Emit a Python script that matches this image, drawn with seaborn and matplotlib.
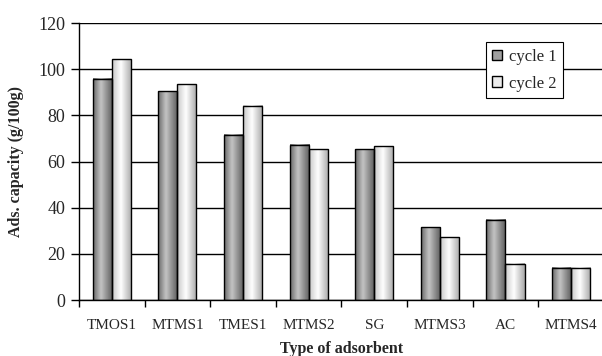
import numpy as np
import pandas as pd
import seaborn as sns
import matplotlib.pyplot as plt
from matplotlib.colors import LinearSegmentedColormap
from matplotlib.patches import Patch

adsorbents = ["TMOS1", "MTMS1", "TMES1", "MTMS2", "SG", "MTMS3", "AC", "MTMS4"]
cycle1 = [95.8, 90.4, 71.5, 67.2, 65.3, 31.5, 34.7, 13.9]
cycle2 = [104.3, 93.4, 84.2, 65.3, 66.7, 27.2, 15.7, 13.9]
series = ["cycle 1", "cycle 2"]
yticks = [0, 20, 40, 60, 80, 100, 120]

df = pd.DataFrame({
    "adsorbent": adsorbents * 2,
    "capacity": cycle1 + cycle2,
    "cycle": [series[0]] * len(adsorbents) + [series[1]] * len(adsorbents),
})

sns.set_style("white")
plt.rcParams["font.family"] = ["Liberation Serif", "DejaVu Serif"]

fig = plt.figure(figsize=(6.02, 3.56), dpi=100)
ax = fig.add_axes([0.1312, 0.1573, 0.872, 0.778])

sns.barplot(data=df, x="adsorbent", y="capacity", hue="cycle", order=adsorbents,
            hue_order=series, width=0.58, gap=0, ax=ax, legend=False,
            palette=["#a0a0a0", "#ececec"], edgecolor="black", linewidth=1.0,
            saturation=1)

# cylinder-like shading as in the original spreadsheet chart
cmaps = [
    LinearSegmentedColormap.from_list("c1", [(0, "#6a6a6a"), (0.4, "#c4c4c4"), (1, "#5c5c5c")]),
    LinearSegmentedColormap.from_list("c2", [(0, "#c8c8c8"), (0.45, "#ffffff"), (1, "#a8a8a8")]),
]
grad = np.linspace(0, 1, 64).reshape(1, -1)
for cont, cm in zip(ax.containers, cmaps):
    for bar in cont:
        x, w, h = bar.get_x(), bar.get_width(), bar.get_height()
        ax.imshow(grad, extent=[x, x + w, 0, h], aspect="auto", cmap=cm,
                  zorder=2.5, interpolation="bicubic")
        bar.set_facecolor("none")
        bar.set_zorder(3)

ax.set_xlim(-0.5, 7.5)
ax.set_ylim(0, 120)
ax.set_yticks(yticks)
ax.set_axisbelow(True)
ax.yaxis.grid(True, color="black", linewidth=1.0)
ax.xaxis.grid(False)

for s in ["top", "right"]:
    ax.spines[s].set_visible(False)
for s in ["left", "bottom"]:
    ax.spines[s].set_color("black")
    ax.spines[s].set_linewidth(1.0)

ax.set_xticks(np.arange(len(adsorbents)))
ax.set_xticklabels(adsorbents, fontsize=11)
ax.set_xticks(np.arange(len(adsorbents) + 1) - 0.5, minor=True)
ax.tick_params(axis="x", which="major", length=0, pad=14)
ax.tick_params(axis="x", which="minor", length=5, width=1, color="black", direction="out", bottom=True)
ax.tick_params(axis="y", length=6, width=1, color="black", direction="out", left=True, labelsize=13, pad=4)

ax.set_xlabel("Type of adsorbent", fontsize=11.5, fontweight="bold", labelpad=6)
ax.set_ylabel("Ads. capacity (g/100g)", fontsize=11.5, fontweight="bold", labelpad=10)

handles = [Patch(facecolor="#a0a0a0", edgecolor="black", label=series[0]),
           Patch(facecolor="#ececec", edgecolor="black", label=series[1])]
leg = fig.legend(handles=handles, loc="upper left", bbox_to_anchor=(0.807, 0.882),
                 fontsize=12, frameon=True, fancybox=False, edgecolor="black",
                 handlelength=0.6, handleheight=0.6, handletextpad=0.4,
                 labelspacing=0.65, borderpad=0.4, borderaxespad=0)
leg.get_frame().set_linewidth(0.8)
leg.get_frame().set_alpha(1)

fig.savefig("out.png", dpi=100)
